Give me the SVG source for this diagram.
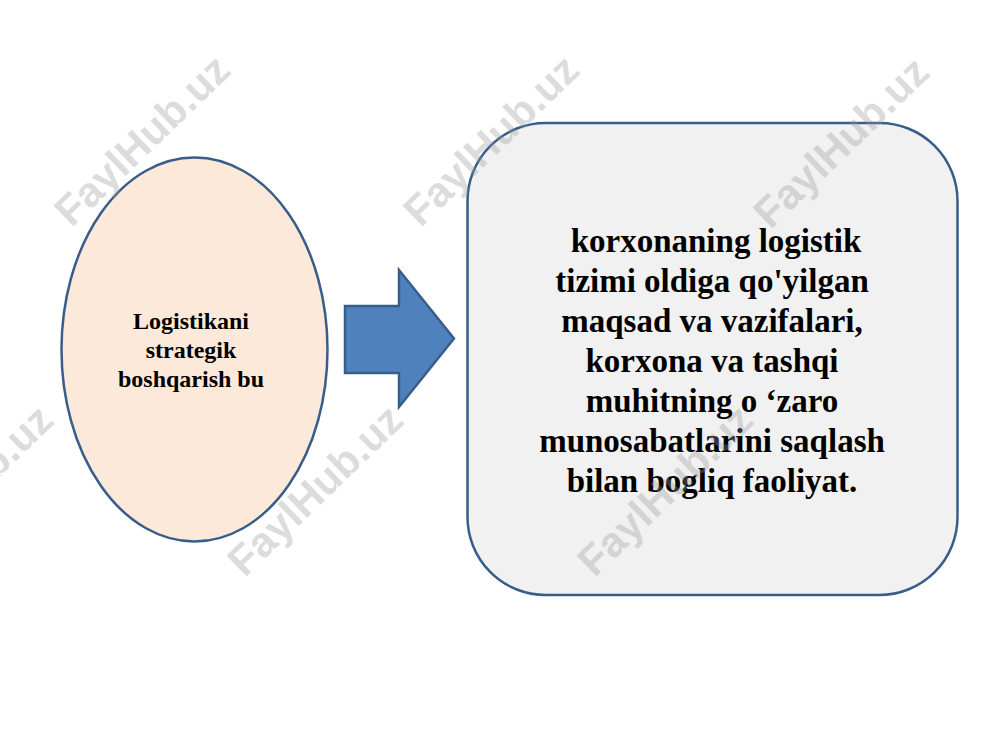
<svg xmlns="http://www.w3.org/2000/svg" width="1000" height="750" viewBox="0 0 1000 750">
  <style>
    .shape { stroke: #385D8A; stroke-width: 2.5; }
    .label { font-family: "Liberation Serif", "Times New Roman", serif; font-weight: bold; fill: #000; text-anchor: middle; }
    .wm { font-family: "Liberation Sans", Arial, sans-serif; font-weight: bold; font-size: 42px; fill: #9a9a9a; fill-opacity: 0.35; text-anchor: middle; dominant-baseline: central; }
  </style>
  <rect width="1000" height="750" fill="#ffffff"/>

  <g id="node-strategik">
    <ellipse class="shape" cx="194.5" cy="349.5" rx="133" ry="192" fill="#FDE9D9"/>
    <text class="label" font-size="24" x="191" y="329">Logistikani</text>
    <text class="label" font-size="24" x="191" y="358">strategik</text>
    <text class="label" font-size="24" x="191" y="387">boshqarish bu</text>
  </g>

  <g id="connectors">
    <polygon class="shape" fill="#4F81BD" stroke-width="2" points="345,306 399,306 399,270 454,338.5 399,407 399,373 345,373"/>
  </g>

  <g id="node-faoliyat">
    <rect class="shape" x="467.5" y="123" width="490" height="472" rx="78" ry="78" fill="#F1F1F2"/>
    <text class="label" font-size="33" x="716" y="252">korxonaning logistik</text>
    <text class="label" font-size="33" x="712" y="292">tizimi oldiga qo'yilgan</text>
    <text class="label" font-size="33" x="712" y="332">maqsad va vazifalari,</text>
    <text class="label" font-size="33" x="712" y="372">korxona va tashqi</text>
    <text class="label" font-size="33" x="712" y="412">muhitning o ‘zaro</text>
    <text class="label" font-size="33" x="712" y="452">munosabatlarini saqlash</text>
    <text class="label" font-size="33" x="712" y="492">bilan bogliq faoliyat.</text>
  </g>

  <g id="watermarks">
    <text class="wm" transform="translate(142,140) rotate(-44)">FaylHub.uz</text>
    <text class="wm" transform="translate(491,140) rotate(-44)">FaylHub.uz</text>
    <text class="wm" transform="translate(841,142) rotate(-44)">FaylHub.uz</text>
    <text class="wm" transform="translate(-35,490) rotate(-44)">FaylHub.uz</text>
    <text class="wm" transform="translate(315,490) rotate(-44)">FaylHub.uz</text>
    <text class="wm" transform="translate(665,490) rotate(-44)">FaylHub.uz</text>
  </g>
</svg>
